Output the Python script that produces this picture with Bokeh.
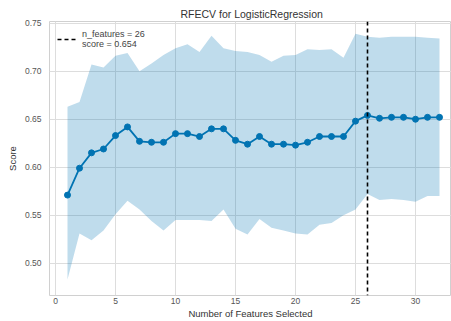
from bokeh.plotting import figure
from bokeh.models import Span, Legend, LegendItem, Range1d, FixedTicker, ColumnDataSource, CustomJSTickFormatter
from bokeh.embed import file_html
from bokeh.resources import INLINE

n_features = list(range(1, 33))
score = [0.571, 0.599, 0.615, 0.619, 0.633, 0.642, 0.627, 0.626, 0.626, 0.635,
         0.635, 0.632, 0.640, 0.640, 0.628, 0.624, 0.632, 0.624, 0.624, 0.623,
         0.626, 0.632, 0.632, 0.632, 0.648, 0.654, 0.651, 0.652, 0.652, 0.650,
         0.652, 0.652]
upper = [0.663, 0.668, 0.707, 0.704, 0.716, 0.719, 0.700, 0.708, 0.717, 0.724,
         0.728, 0.720, 0.737, 0.724, 0.721, 0.720, 0.717, 0.710, 0.716, 0.717,
         0.723, 0.722, 0.723, 0.714, 0.739, 0.736, 0.735, 0.736, 0.736, 0.736,
         0.735, 0.734]
lower = [0.483, 0.531, 0.524, 0.534, 0.551, 0.565, 0.556, 0.544, 0.534, 0.545,
         0.545, 0.545, 0.544, 0.556, 0.536, 0.530, 0.546, 0.537, 0.534, 0.531,
         0.530, 0.540, 0.542, 0.550, 0.556, 0.572, 0.566, 0.567, 0.566, 0.564,
         0.570, 0.570]
x_ticks = [0, 5, 10, 15, 20, 25, 30]
y_ticks = [0.50, 0.55, 0.60, 0.65, 0.70, 0.75]
best_n = 26
best_score = score[n_features.index(best_n)]

BLUE = "#0173B2"
FONT = "Liberation Sans"

src = ColumnDataSource(dict(x=n_features, y=score, lo=lower, hi=upper))

p = figure(width=451, height=321, output_backend="svg", toolbar_location=None,
           x_range=Range1d(-0.5, 33.0), y_range=Range1d(0.4664, 0.7518),
           min_border_left=49, min_border_right=0, min_border_top=21,
           min_border_bottom=26, title="RFECV for LogisticRegression")
p.background_fill_color = "white"
p.border_fill_color = "white"
p.outline_line_color = "#d0d0d0"

p.title.text_font = FONT
p.title.text_font_size = "10.5px"
p.title.text_font_style = "normal"
p.title.text_color = "#333333"
p.title.align = "left"
p.title.offset = 131
p.title.standoff = 4

p.varea(x="x", y1="lo", y2="hi", source=src, fill_color=BLUE, fill_alpha=0.25)
p.line(x="x", y="y", source=src, line_color=BLUE, line_width=1.8)
p.scatter(x="x", y="y", source=src, size=6, fill_color=BLUE, line_color=BLUE)

span = Span(location=best_n, dimension="height", line_color="black",
            line_width=1.6, line_dash="4 3")
p.add_layout(span)
legend_src = ColumnDataSource(dict(x=[best_n], y=[best_score]))
dummy = p.line(x="x", y="y", source=legend_src, line_color="black",
               line_width=1.6, line_dash="4 3")

legend = Legend(items=[LegendItem(label=f"n_features = {best_n}\nscore = {best_score:.3f}",
                                  renderers=[dummy])],
                location="top_left")
legend.background_fill_alpha = 0
legend.border_line_alpha = 0
legend.label_text_font = FONT
legend.label_text_font_size = "9px"
legend.label_text_color = "#444444"
legend.label_text_line_height = 1.0
legend.glyph_width = 20
legend.label_standoff = 5
legend.margin = 6
legend.padding = 2
p.add_layout(legend)

for ax in (p.xaxis, p.yaxis):
    ax.axis_line_color = None
    ax.major_tick_line_color = None
    ax.minor_tick_line_color = None
    ax.major_tick_out = 0
    ax.major_tick_in = 0
    ax.minor_tick_out = 0
    ax.minor_tick_in = 0
    ax.major_label_text_font = FONT
    ax.major_label_text_font_size = "8.5px"
    ax.major_label_text_color = "#555555"
    ax.axis_label_text_font = FONT
    ax.axis_label_text_font_size = "9.5px"
    ax.axis_label_text_font_style = "normal"
    ax.axis_label_text_color = "#333333"

p.xaxis.major_label_standoff = 2
p.xaxis.axis_label_standoff = 1
p.yaxis.major_label_standoff = 8
p.yaxis.axis_label_standoff = 4

p.xaxis.ticker = FixedTicker(ticks=x_ticks)
p.yaxis.ticker = FixedTicker(ticks=y_ticks)
p.yaxis.formatter = CustomJSTickFormatter(code="return tick.toFixed(2);")
p.xaxis.axis_label = "Number of Features Selected"
p.yaxis.axis_label = "Score"

p.xgrid.grid_line_color = "#dddddd"
p.ygrid.grid_line_color = "#dddddd"

open("out.html", "w").write(file_html(p, INLINE))
